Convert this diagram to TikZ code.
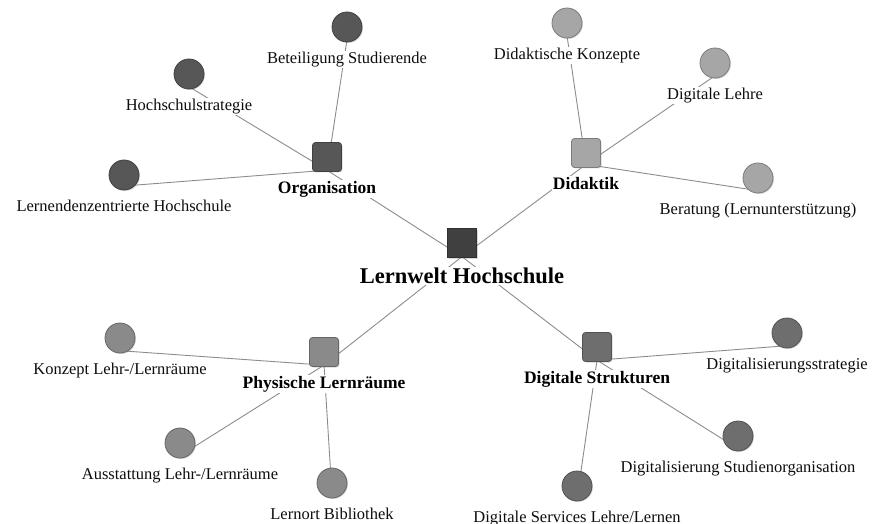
\documentclass[tikz,border=0pt]{standalone}
\usepackage{fontspec}
\setmainfont{Liberation Serif}
\usetikzlibrary{positioning, calc, shadows, backgrounds}
\definecolor{lwcol}{gray}{0.25}
\definecolor{orgcol}{gray}{0.34}
\definecolor{didcol}{gray}{0.65}
\definecolor{phycol}{gray}{0.54}
\definecolor{digcol}{gray}{0.43}
\tikzset{
	hub/.style={rectangle, draw=#1!75!black, fill=#1, rounded corners=3pt, minimum size=29pt, inner sep=0pt, thick,
		drop shadow={shadow xshift=1pt, shadow yshift=-1pt, opacity=0.3}},
	leaf/.style={circle, draw=#1!75!black, fill=#1, minimum size=30pt, inner sep=0pt, thick,
		drop shadow={shadow xshift=1pt, shadow yshift=-1pt, opacity=0.3}},
	leaftext/.style={font=\fontsize{16.5}{18}\selectfont, text=black!95, fill=white, inner sep=1pt},
	hubtext/.style={font=\fontsize{17.5}{20}\selectfont\bfseries, text=black, fill=white, inner sep=1pt},
	link/.style={draw=gray!90, line width=0.9pt}
}

\begin{document}
\begin{tikzpicture}[x=1pt, y=-1pt, node distance=8pt]
	\useasboundingbox (0,0) rectangle (873,524);
	
	% --- Centre ---
	\node[hub=lwcol, rounded corners=0pt] (lw) at (462,243) {};
	\node[hubtext, font=\fontsize{22.5}{26}\selectfont\bfseries, below=9pt of lw] (lw-t) {Lernwelt Hochschule};
	
	% --- Four areas ---
	\node[hub=orgcol] (org) at (327,157) {};
	\node[hubtext, below=of org] (org-t) {Organisation};
	\node[hub=didcol] (did) at (586,153) {};
	\node[hubtext, below=of did] (did-t) {Didaktik};
	\node[hub=phycol] (phy) at (324,352) {};
	\node[hubtext, below=of phy] (phy-t) {Physische Lernräume};
	\node[hub=digcol] (dig) at (597,347) {};
	\node[hubtext, below=of dig] (dig-t) {Digitale Strukturen};
	
	% --- Organisation leaves ---
	\node[leaf=orgcol] (beteil) at (347,27) {};
	\node[leaftext, below=of beteil] (beteil-t) {Beteiligung Studierende};
	\node[leaf=orgcol] (hsstrat) at (189,74) {};
	\node[leaftext, below=of hsstrat] (hsstrat-t) {Hochschulstrategie};
	\node[leaf=orgcol] (lernzent) at (124,175) {};
	\node[leaftext, below=of lernzent] (lernzent-t) {Lernendenzentrierte Hochschule};
	
	% --- Didaktik leaves ---
	\node[leaf=didcol] (didkonz) at (567,23) {};
	\node[leaftext, below=of didkonz] (didkonz-t) {Didaktische Konzepte};
	\node[leaf=didcol] (diglehre) at (715,63) {};
	\node[leaftext, below=of diglehre] (diglehre-t) {Digitale Lehre};
	\node[leaf=didcol] (berat) at (758,178) {};
	\node[leaftext, below=of berat] (berat-t) {Beratung (Lernunterstützung)};
	
	% --- Physische Lernraeume leaves ---
	\node[leaf=phycol] (konzept) at (120,338) {};
	\node[leaftext, below=of konzept] (konzept-t) {Konzept Lehr-/Lernräume};
	\node[leaf=phycol] (ausst) at (180,443) {};
	\node[leaftext, below=of ausst] (ausst-t) {Ausstattung Lehr-/Lernräume};
	\node[leaf=phycol] (biblio) at (332,483) {};
	\node[leaftext, below=of biblio] (biblio-t) {Lernort Bibliothek};
	
	% --- Digitale Strukturen leaves ---
	\node[leaf=digcol] (digstrat) at (787,333) {};
	\node[leaftext, below=of digstrat] (digstrat-t) {Digitalisierungsstrategie};
	\node[leaf=digcol] (digstud) at (738,436) {};
	\node[leaftext, below=of digstud] (digstud-t) {Digitalisierung Studienorganisation};
	\node[leaf=digcol] (digserv) at (577,486) {};
	\node[leaftext, below=of digserv] (digserv-t) {Digitale Services Lehre/Lernen};
	
	% Links run between the middles of shape + label, behind everything
	\begin{scope}[on background layer]
		\foreach \a/\b in {lw/org, lw/did, lw/phy, lw/dig,
			org/beteil, org/hsstrat, org/lernzent,
			did/didkonz, did/diglehre, did/berat,
			phy/konzept, phy/ausst, phy/biblio,
			dig/digstrat, dig/digstud, dig/digserv}
			\draw[link] ($(\a.north)!0.5!(\a-t.south)$) -- ($(\b.north)!0.5!(\b-t.south)$);
	\end{scope}
	
\end{tikzpicture}
\end{document}
